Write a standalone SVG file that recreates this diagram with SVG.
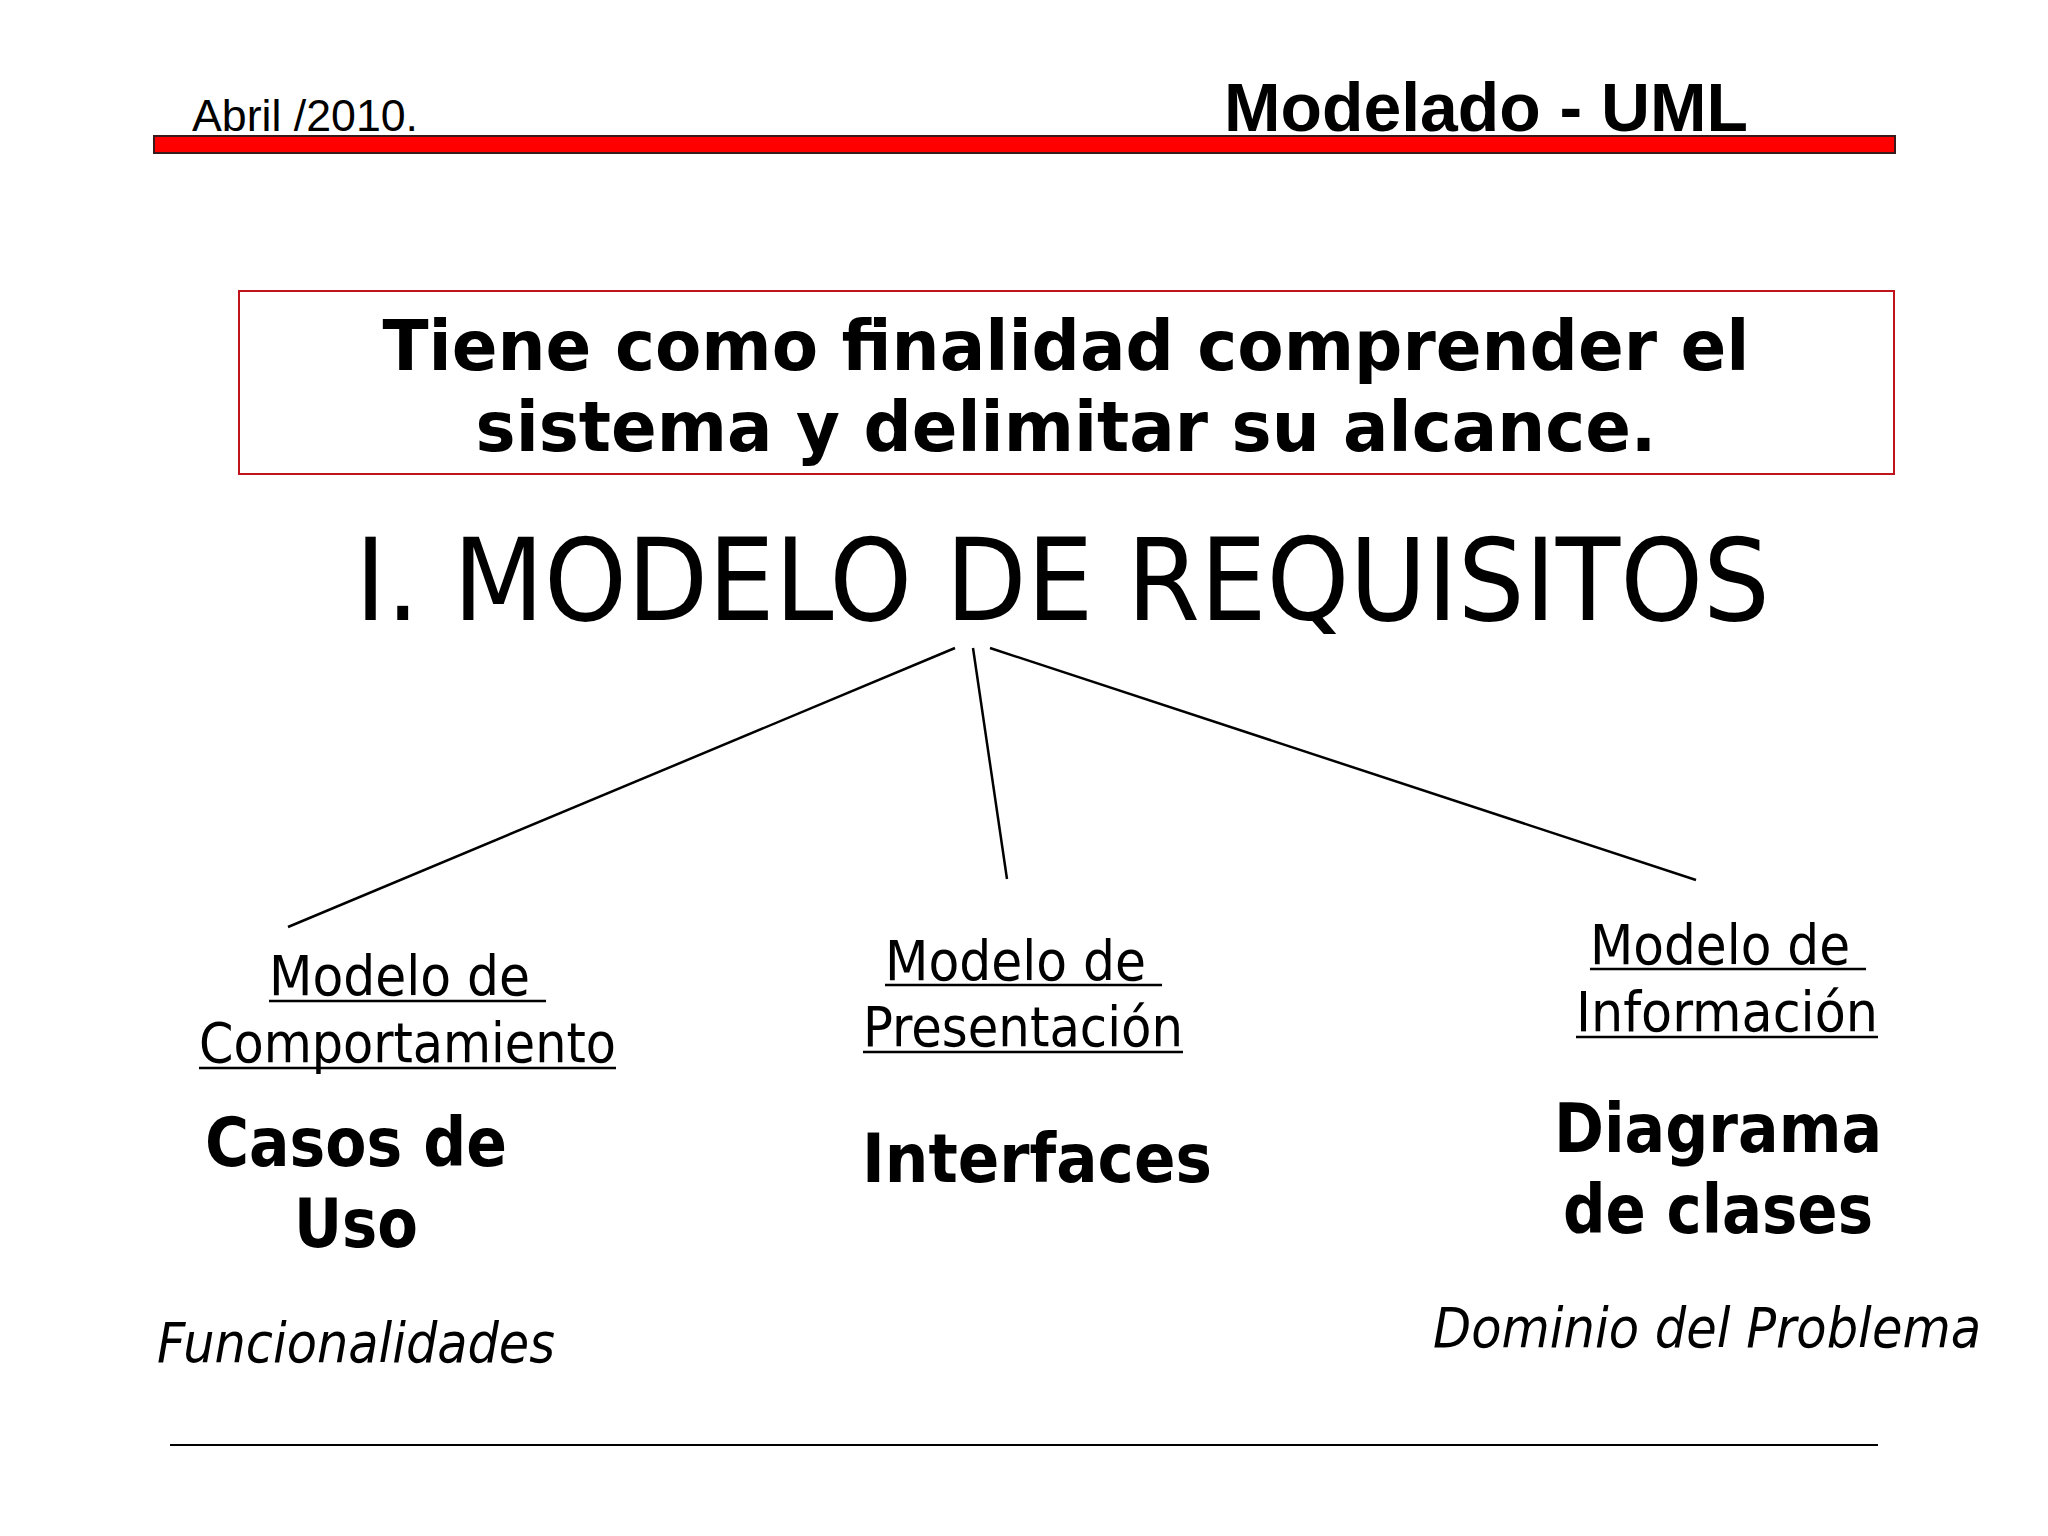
<svg xmlns="http://www.w3.org/2000/svg" width="2048" height="1536" viewBox="0 0 2048 1536">
<style>
.hdr{font-family:"Liberation Sans",Arial,sans-serif;fill:#000}
.box{font-family:"DejaVu Sans",Verdana,sans-serif;font-weight:bold;font-size:70px;fill:#000;text-anchor:middle}
.title{font-family:"DejaVu Sans Condensed","DejaVu Sans",sans-serif;font-size:114px;fill:#000}
.lbl{font-family:"DejaVu Sans Condensed","DejaVu Sans",sans-serif;font-size:55px;fill:#000}
.big{font-family:"DejaVu Sans Condensed","DejaVu Sans",sans-serif;font-weight:bold;font-size:68px;fill:#000}
.it{font-family:"DejaVu Sans Condensed","DejaVu Sans",sans-serif;font-style:italic;font-size:55px;fill:#000}
.ul{stroke:#000;stroke-width:2.5}
.conn{stroke:#000;stroke-width:2.5;fill:none}
</style>
<rect width="2048" height="1536" fill="#fff"/>
<g id="header">
<text class="hdr" x="192" y="131" font-size="45" textLength="226" lengthAdjust="spacingAndGlyphs">Abril /2010.</text>
<text class="hdr" x="1224" y="131" font-size="69" font-weight="bold" textLength="524" lengthAdjust="spacingAndGlyphs">Modelado - UML</text>
<rect x="154" y="136" width="1741" height="17" fill="#ff0000" stroke="#3a1a1a" stroke-width="2"/>
</g>
<g id="goal">
<rect x="239" y="291" width="1655" height="183" fill="#fff" stroke="#c0141c" stroke-width="2"/>
<text class="box" x="1066" y="370" textLength="1367" lengthAdjust="spacingAndGlyphs">Tiene como finalidad comprender el</text>
<text class="box" x="1066" y="451" textLength="1181" lengthAdjust="spacingAndGlyphs">sistema y delimitar su alcance.</text>
</g>
<g id="root">
<text class="title" x="355" y="620" textLength="1415" lengthAdjust="spacingAndGlyphs">I. MODELO DE REQUISITOS</text>
</g>
<g id="connectors">
<line class="conn" x1="955" y1="648" x2="288" y2="927"/>
<line class="conn" x1="973" y1="648" x2="1007" y2="879"/>
<line class="conn" x1="990" y1="648" x2="1696" y2="880"/>
</g>
<g id="comportamiento">
<text class="lbl" x="269" y="995" textLength="277" lengthAdjust="spacingAndGlyphs" xml:space="preserve">Modelo de </text>
<line class="ul" x1="269" y1="1001" x2="546" y2="1001"/>
<text class="lbl" x="199" y="1062" textLength="417" lengthAdjust="spacingAndGlyphs">Comportamiento</text>
<line class="ul" x1="199" y1="1068" x2="616" y2="1068"/>
<text class="big" x="205" y="1166" textLength="302" lengthAdjust="spacingAndGlyphs">Casos de</text>
<text class="big" x="294" y="1247" textLength="124" lengthAdjust="spacingAndGlyphs">Uso</text>
<text class="it" x="157" y="1362" textLength="398" lengthAdjust="spacingAndGlyphs">Funcionalidades</text>
</g>
<g id="presentacion">
<text class="lbl" x="885" y="980" textLength="277" lengthAdjust="spacingAndGlyphs" xml:space="preserve">Modelo de </text>
<line class="ul" x1="885" y1="985" x2="1162" y2="985"/>
<text class="lbl" x="863" y="1046" textLength="320" lengthAdjust="spacingAndGlyphs">Presentación</text>
<line class="ul" x1="863" y1="1052" x2="1183" y2="1052"/>
<text class="big" x="862" y="1182" textLength="350" lengthAdjust="spacingAndGlyphs">Interfaces</text>
</g>
<g id="informacion">
<text class="lbl" x="1590" y="964" textLength="276" lengthAdjust="spacingAndGlyphs" xml:space="preserve">Modelo de </text>
<line class="ul" x1="1590" y1="969" x2="1866" y2="969"/>
<text class="lbl" x="1576" y="1031" textLength="302" lengthAdjust="spacingAndGlyphs">Información</text>
<line class="ul" x1="1576" y1="1037" x2="1878" y2="1037"/>
<text class="big" x="1554" y="1152" textLength="328" lengthAdjust="spacingAndGlyphs">Diagrama</text>
<text class="big" x="1563" y="1233" textLength="310" lengthAdjust="spacingAndGlyphs">de clases</text>
<text class="it" x="1433" y="1347" textLength="548" lengthAdjust="spacingAndGlyphs">Dominio del Problema</text>
</g>
<line x1="170" y1="1445" x2="1878" y2="1445" stroke="#000" stroke-width="2"/>
</svg>
